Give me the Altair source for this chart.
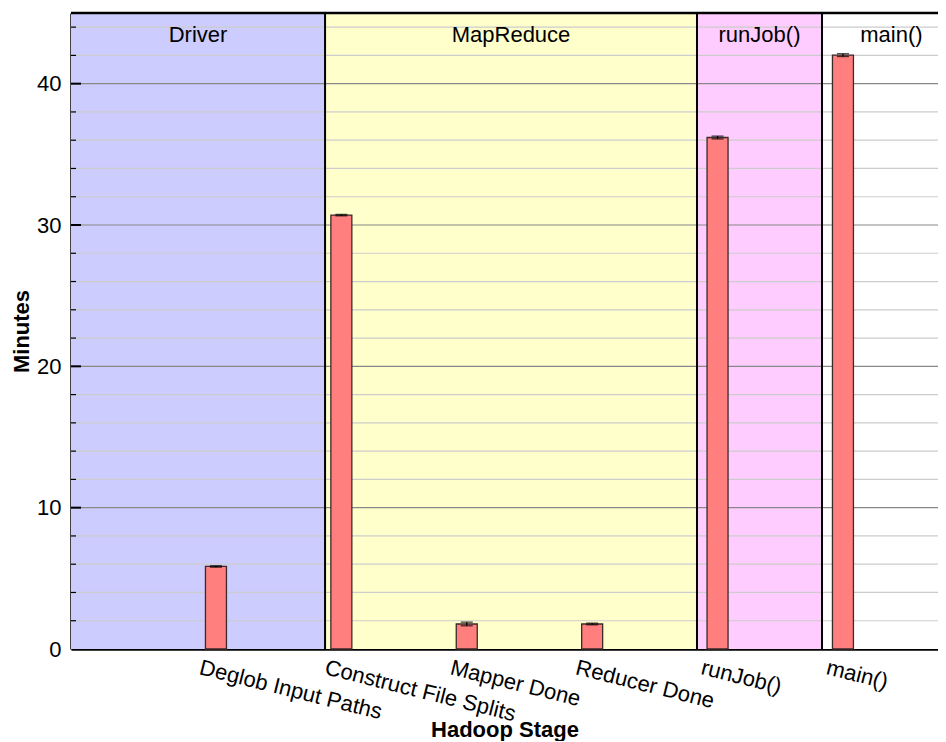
import altair as alt
import pandas as pd

# ---- data ----
stages = ["Deglob Input Paths", "Construct File Splits", "Mapper Done",
          "Reducer Done", "runJob()", "main()"]
positions = [1, 2, 3, 4, 5, 6]
minutes = [5.84, 30.7, 1.77, 1.77, 36.19, 42.02]
errors = [0.05, 0.05, 0.13, 0.06, 0.10, 0.10]

regions = ["Driver", "MapReduce", "runJob()", "main()"]
region_start = [-0.156, 1.87, 4.836, 5.833]
region_end = [1.87, 4.836, 5.833, 6.94]
region_colors = ["#ccccff", "#ffffcc", "#ffccff", "#ffffff"]

y_labels = [0, 10, 20, 30, 40]
minor_grid = [v for v in range(2, 46, 2) if v % 10 != 0]
major_grid = [10, 20, 30, 40]

X_DOMAIN = [-0.156, 6.758]
Y_DOMAIN = [0, 45]
W, H = 867, 636
FONT = "Liberation Sans"
FS = 22

bars = pd.DataFrame({"stage": stages, "pos": positions, "minutes": minutes, "err": errors})
bars["lo"] = bars["minutes"] - bars["err"]
bars["hi"] = bars["minutes"] + bars["err"]

reg = pd.DataFrame({"region": regions, "start": region_start, "end": region_end,
                    "color": region_colors})
reg["mid"] = (reg["start"] + reg["end"]) / 2
bounds = reg.iloc[1:]

xs = alt.Scale(domain=X_DOMAIN, nice=False, zero=False, padding=0)
ys = alt.Scale(domain=Y_DOMAIN, nice=False, zero=False, padding=0)

label_js = "[" + ",".join("'" + s + "'" for s in stages) + "]"

rects = alt.Chart(reg).mark_rect(clip=True).encode(
    x=alt.X("start:Q", scale=xs, axis=None),
    x2="end:Q",
    y=alt.value(0),
    y2=alt.value(H),
    color=alt.Color("color:N", scale=None),
)

minor = alt.Chart(pd.DataFrame({"v": minor_grid})).mark_rule(
    color="#cccccc", strokeWidth=1.2).encode(
    y=alt.Y("v:Q", scale=ys, axis=None), x=alt.value(0), x2=alt.value(W))

major = alt.Chart(pd.DataFrame({"v": major_grid})).mark_rule(
    color="#888888", strokeWidth=1.2).encode(
    y=alt.Y("v:Q", scale=ys, axis=None), x=alt.value(0), x2=alt.value(W))

minor_ticks = alt.Chart(pd.DataFrame({"v": minor_grid})).mark_rule(
    color="black", strokeWidth=1.2).encode(
    y=alt.Y("v:Q", scale=ys, axis=None), x=alt.value(0), x2=alt.value(5))

major_ticks = alt.Chart(pd.DataFrame({"v": major_grid})).mark_rule(
    color="black", strokeWidth=2).encode(
    y=alt.Y("v:Q", scale=ys, axis=None), x=alt.value(0), x2=alt.value(10))

bound_rules = alt.Chart(bounds).mark_rule(color="black", strokeWidth=2).encode(
    x=alt.X("start:Q", scale=xs, axis=None), y=alt.value(0), y2=alt.value(H))

top_rule = alt.Chart(pd.DataFrame({"v": [Y_DOMAIN[1]]})).mark_rule(
    color="black", strokeWidth=2.5).encode(
    y=alt.Y("v:Q", scale=ys, axis=None), x=alt.value(0), x2=alt.value(W))

bar_layer = alt.Chart(bars).mark_bar(
    size=21, color="#ff7f7f", stroke="#3a2a2a", strokeWidth=1.3).encode(
    x=alt.X("pos:Q", scale=xs, title="Hadoop Stage",
            axis=alt.Axis(values=positions, labelExpr=label_js + "[datum.value-1]",
                          labelAngle=14, labelAlign="left", labelBaseline="top",
                          labelOffset=-14, labelPadding=8, ticks=False, grid=False,
                          domainColor="black", domainWidth=2.5, labelLimit=500,
                          labelFont=FONT, labelFontSize=FS, labelColor="black",
                          titleFont=FONT, titleFontSize=FS, titleFontWeight="bold",
                          titleColor="black", titleY=87, titleBaseline="alphabetic",
                          labelOverlap=False, labelFlush=False, labelBound=False)),
    y=alt.Y("minutes:Q", scale=ys, title="Minutes",
            axis=alt.Axis(values=y_labels, ticks=False, grid=False,
                          domainColor="black", domainWidth=2.5,
                          labelFont=FONT, labelFontSize=FS, labelColor="black",
                          labelPadding=10,
                          titleFont=FONT, titleFontSize=FS, titleFontWeight="bold",
                          titleColor="black", titleX=-43, titleY=H / 2,
                          titleAngle=-90, titleBaseline="alphabetic")),
)

err_rule = alt.Chart(bars).mark_rule(color="black", strokeWidth=1.3).encode(
    x=alt.X("pos:Q", scale=xs, axis=None),
    y=alt.Y("lo:Q", scale=ys, axis=None), y2="hi:Q")
cap_lo = alt.Chart(bars).mark_tick(orient="horizontal", size=12, thickness=1.3,
                                   color="black").encode(
    x=alt.X("pos:Q", scale=xs, axis=None), y=alt.Y("lo:Q", scale=ys, axis=None))
cap_hi = alt.Chart(bars).mark_tick(orient="horizontal", size=12, thickness=1.3,
                                   color="black").encode(
    x=alt.X("pos:Q", scale=xs, axis=None), y=alt.Y("hi:Q", scale=ys, axis=None))

region_text = alt.Chart(reg).mark_text(
    font=FONT, fontSize=FS, color="black", baseline="middle", align="center").encode(
    x=alt.X("mid:Q", scale=xs, axis=None), y=alt.value(22), text="region:N")

chart = alt.layer(
    rects, minor, major, bound_rules, bar_layer, err_rule, cap_lo, cap_hi,
    minor_ticks, major_ticks, top_rule, region_text
).resolve_axis(x="independent", y="independent").properties(
    width=W, height=H,
    autosize=alt.AutoSizeParams(type="none"),
    padding={"left": 63, "top": 5, "right": 0, "bottom": 92},
).configure_view(stroke=None)

chart.save("out.html", embed_options={"renderer": "svg", "actions": False})
